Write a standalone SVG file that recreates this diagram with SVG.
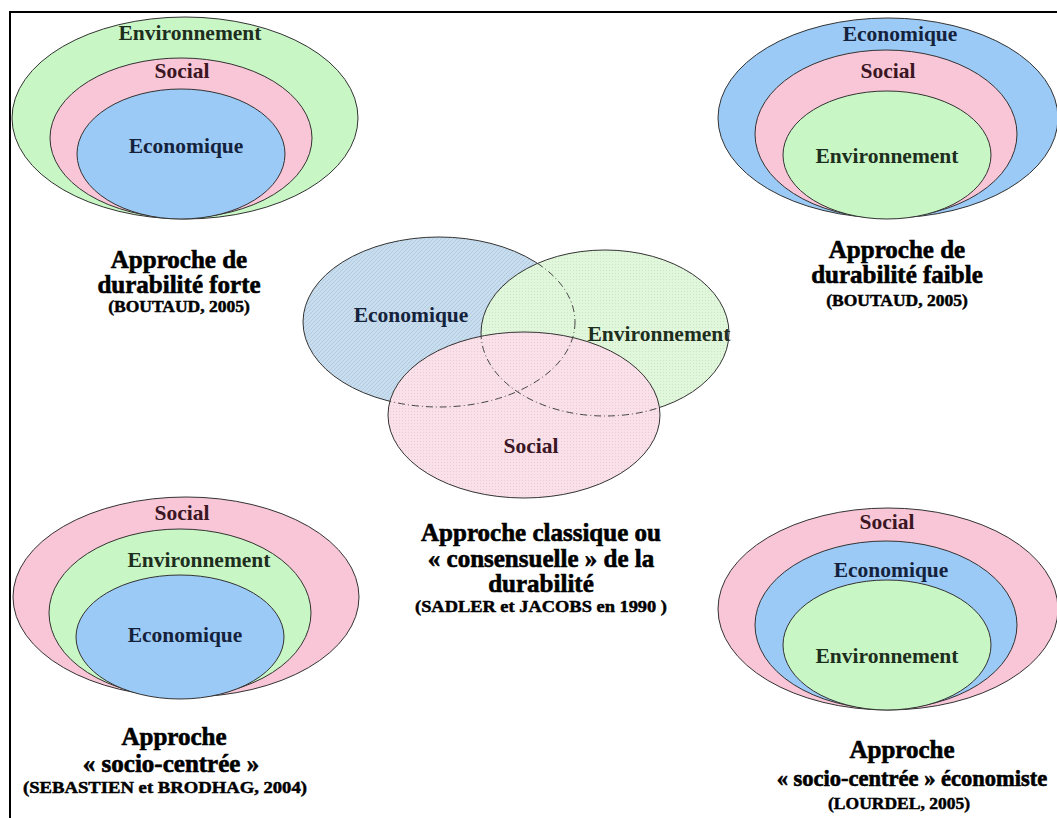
<svg xmlns="http://www.w3.org/2000/svg" width="1057" height="818" viewBox="0 0 1057 818">
<style>
  .lbl { font-family: "Liberation Serif", "Times New Roman", serif; font-weight: bold; font-size: 21.5px; text-anchor: middle; }
  .ttl { font-family: "Liberation Serif", "Times New Roman", serif; font-weight: bold; font-size: 25px; text-anchor: middle; fill: #000; stroke: #000; stroke-width: 0.6; }
  .sub { font-family: "Liberation Serif", "Times New Roman", serif; font-weight: bold; font-size: 17.5px; text-anchor: middle; fill: #000; stroke: #000; stroke-width: 0.5; }
  .env { fill: #1e2e1e; }
  .eco { fill: #14223c; }
  .soc { fill: #3a1624; }
  .e { stroke: #333; stroke-width: 1; }
  .g { fill: #c8f6c4; }
  .p { fill: #f8c6d6; }
  .b { fill: #9ccaf6; }
  .dash { fill: none; stroke: #444; stroke-width: 1; stroke-dasharray: 7 3 1 3; }
</style>
<defs>
  <pattern id="hb" width="4" height="4" patternUnits="userSpaceOnUse">
    <rect width="4" height="4" fill="#c8dded"/>
    <path d="M0,4 L4,0" stroke="#b3cbe0" stroke-width="1"/>
  </pattern>
  <pattern id="hg" width="3" height="3" patternUnits="userSpaceOnUse">
    <rect width="3" height="3" fill="#e1f7db"/>
    <rect width="1" height="1" fill="#cde6c6"/>
  </pattern>
  <pattern id="hp" width="3" height="3" patternUnits="userSpaceOnUse">
    <rect width="3" height="3" fill="#f9e0e9"/>
    <rect width="1" height="1" fill="#eccbd7"/>
  </pattern>
  <clipPath id="cGP">
    <ellipse cx="605" cy="333" rx="124" ry="83"/>
    <ellipse cx="524" cy="415" rx="136" ry="83"/>
  </clipPath>
  <clipPath id="cP">
    <ellipse cx="524" cy="415" rx="136" ry="83"/>
  </clipPath>
</defs>
<rect width="1057" height="818" fill="#fff"/>
<g id="frame" fill="none" stroke="#000" stroke-width="2">
  <path d="M10,818 L10,12 L1057,12"/>
</g>

<g id="forte">
  <ellipse class="e g" cx="185" cy="118" rx="173" ry="101"/>
  <ellipse class="e p" cx="181" cy="138" rx="131" ry="80"/>
  <ellipse class="e b" cx="181" cy="154" rx="104" ry="65"/>
  <text class="lbl env" x="190" y="40">Environnement</text>
  <text class="lbl soc" x="182" y="78">Social</text>
  <text class="lbl eco" x="186" y="153">Economique</text>
  <text class="ttl" x="179" y="268">Approche de</text>
  <text class="ttl" x="179" y="293">durabilité forte</text>
  <text class="sub" x="179" y="312">(BOUTAUD, 2005)</text>
</g>

<g id="faible">
  <ellipse class="e b" cx="888" cy="118" rx="170" ry="100"/>
  <ellipse class="e p" cx="886" cy="134" rx="131" ry="84"/>
  <ellipse class="e g" cx="887" cy="155" rx="104" ry="64"/>
  <text class="lbl eco" x="900" y="41">Economique</text>
  <text class="lbl soc" x="888" y="78">Social</text>
  <text class="lbl env" x="887" y="163">Environnement</text>
  <text class="ttl" x="897" y="258">Approche de</text>
  <text class="ttl" x="897" y="283">durabilité faible</text>
  <text class="sub" x="897" y="306">(BOUTAUD, 2005)</text>
</g>

<g id="classique">
  <ellipse cx="439" cy="322" rx="136" ry="85" fill="url(#hb)" stroke="#333" stroke-width="1"/>
  <ellipse cx="605" cy="333" rx="124" ry="83" fill="url(#hg)" stroke="#333" stroke-width="1"/>
  <ellipse cx="524" cy="415" rx="136" ry="83" fill="url(#hp)" stroke="#333" stroke-width="1"/>
  <g clip-path="url(#cGP)">
    <ellipse class="dash" cx="439" cy="322" rx="136" ry="85"/>
  </g>
  <g clip-path="url(#cP)">
    <ellipse class="dash" cx="605" cy="333" rx="124" ry="83"/>
  </g>
  <text class="lbl eco" x="411" y="322">Economique</text>
  <text class="lbl env" x="659" y="341">Environnement</text>
  <text class="lbl soc" x="531" y="453">Social</text>
  <text class="ttl" x="541" y="541">Approche classique ou</text>
  <text class="ttl" x="541" y="567">« consensuelle » de la</text>
  <text class="ttl" x="541" y="592">durabilité</text>
  <text class="sub" x="541" y="612" textLength="252" lengthAdjust="spacingAndGlyphs">(SADLER et JACOBS en 1990 )</text>
</g>

<g id="socio">
  <ellipse class="e p" cx="186" cy="597" rx="173" ry="100"/>
  <ellipse class="e g" cx="180" cy="613" rx="131" ry="84"/>
  <ellipse class="e b" cx="180" cy="637" rx="104" ry="62"/>
  <text class="lbl soc" x="182" y="520">Social</text>
  <text class="lbl env" x="199" y="567">Environnement</text>
  <text class="lbl eco" x="185" y="642">Economique</text>
  <text class="ttl" x="174" y="745">Approche</text>
  <text class="ttl" x="171" y="772">« socio-centrée »</text>
  <text class="sub" x="165" y="793" textLength="284" lengthAdjust="spacingAndGlyphs">(SEBASTIEN et BRODHAG, 2004)</text>
</g>

<g id="economiste">
  <ellipse class="e p" cx="888" cy="609" rx="170" ry="101"/>
  <ellipse class="e b" cx="886" cy="625" rx="131" ry="84"/>
  <ellipse class="e g" cx="887" cy="645" rx="104" ry="65"/>
  <text class="lbl soc" x="887" y="529">Social</text>
  <text class="lbl eco" x="891" y="577">Economique</text>
  <text class="lbl env" x="887" y="663">Environnement</text>
  <text class="ttl" x="902" y="758">Approche</text>
  <text class="ttl" x="912" y="786" style="font-size:22.5px">« socio-centrée » économiste</text>
  <text class="sub" x="899" y="809">(LOURDEL, 2005)</text>
</g>
</svg>
